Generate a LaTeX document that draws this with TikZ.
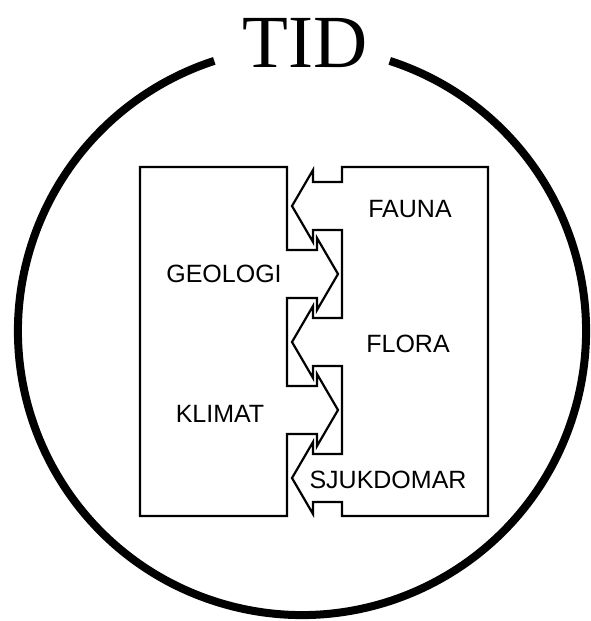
\documentclass[tikz,border=0pt]{standalone}
\usepackage{fontspec}
\setmainfont{Liberation Serif}
\newfontfamily\sansfont{Liberation Sans}
\usepackage{tikz}
\usetikzlibrary{calc}

\tikzset{
  piece/.style={line width=2.2pt, line join=miter},
  boxtext/.style={anchor=base, inner sep=0pt, font=\sansfont\fontsize{25}{25}\selectfont},
}

\begin{document}
\begin{tikzpicture}[x=1pt, y=-1pt]
\useasboundingbox (0, 0) rectangle (591, 621);

% the time circle, open at the top
\draw[line width=8pt] (302, 331) ++(-72:284) arc[start angle=-72, end angle=252, radius=284];
\node[anchor=base, inner sep=0pt, font=\fontsize{75}{75}\selectfont] (tid) at (305, 67) {TID};

% left piece with the two arrows pointing right
\draw[piece] (287, 167) -- (140, 167) -- (140, 516) -- (287, 516) -- (287, 434)
  -- (317, 434) -- (317, 446) -- (338, 410) -- (317, 374) -- (317, 386) -- (287, 386)
  -- (287, 298) -- (317, 298) -- (317, 310) -- (338, 274) -- (317, 238) -- (317, 250)
  -- (287, 250) -- cycle;

% right piece with the three arrows pointing left
\draw[piece] (342, 167) -- (488, 167) -- (488, 516) -- (342, 516) -- (342, 502)
  -- (313, 502) -- (313, 514) -- (292, 478) -- (313, 442) -- (313, 454) -- (342, 454)
  -- (342, 366) -- (313, 366) -- (313, 378) -- (292, 342) -- (313, 306) -- (313, 318)
  -- (342, 318) -- (342, 230) -- (313, 230) -- (313, 242) -- (292, 206) -- (313, 170)
  -- (313, 182) -- (342, 182) -- cycle;

\node[boxtext] (fauna) at (410, 217) {FAUNA};
\node[boxtext] (geologi) at (224, 282) {GEOLOGI};
\node[boxtext] (flora) at (408, 352) {FLORA};
\node[boxtext] (klimat) at (220, 422) {KLIMAT};
\node[boxtext] (sjukdomar) at (388, 488) {SJUKDOMAR};
\end{tikzpicture}
\end{document}
